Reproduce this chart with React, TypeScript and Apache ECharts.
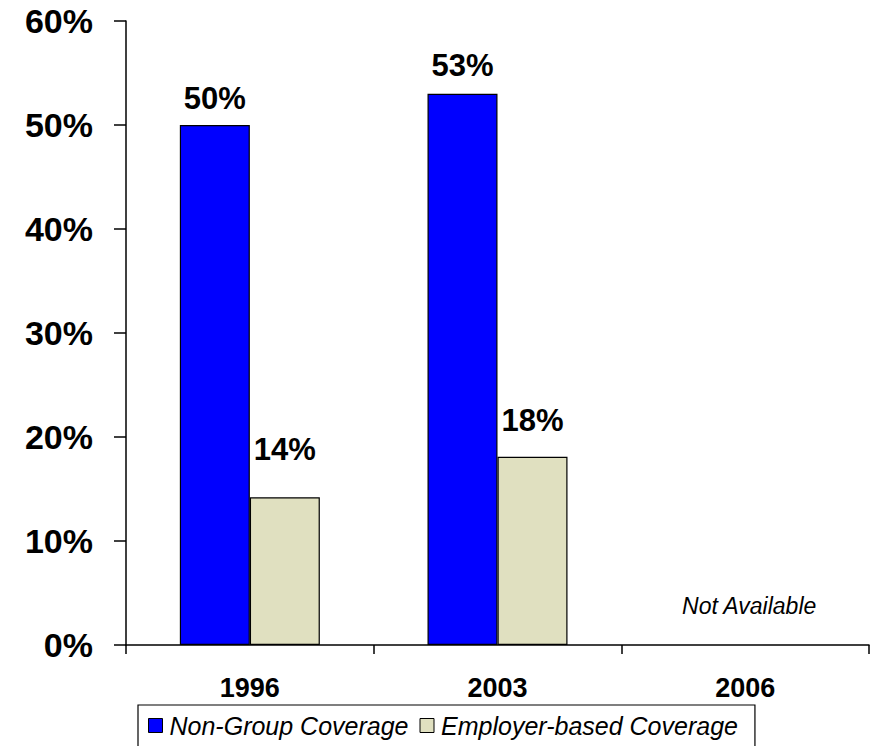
import React, { useEffect, useRef } from "react";
import * as echarts from "echarts";

const categories = ["1996", "2003", "2006"];
const nonGroup: (number | null)[] = [50, 53, null];
const employer: (number | null)[] = [14.2, 18.1, null];
const seriesNames = ["Non-Group Coverage", "Employer-based Coverage"];
const yTicks = [0, 10, 20, 30, 40, 50, 60];
const notAvailableText = "Not Available";

const FONT = "'Liberation Sans', Arial, sans-serif";

export default function App() {
  const ref = useRef<HTMLDivElement>(null);
  useEffect(() => {
    if (!ref.current) return;
    const chart = echarts.init(ref.current, undefined, { renderer: "svg" });
    const labelDist = [
      [11, 13, 0],
      [32, 21, 0],
    ];
    const mk = (vals: (number | null)[], si: number) =>
      vals.map((v, i) =>
        v == null
          ? null
          : { value: v, label: { distance: labelDist[si][i] } }
      );
    chart.setOption({
      animation: false,
      backgroundColor: "#ffffff",
      grid: { left: 126, right: 3, top: 21, bottom: 101, containLabel: false },
      xAxis: {
        type: "category",
        data: categories,
        boundaryGap: true,
        axisLine: { lineStyle: { color: "#000", width: 1.5 } },
        axisTick: { show: true, length: 9, alignWithLabel: false, lineStyle: { color: "#000", width: 1.5 } },
        axisLabel: {
          margin: 29,
          fontFamily: FONT,
          fontWeight: "bold",
          fontSize: 27,
          color: "#000",
        },
      },
      yAxis: {
        type: "value",
        min: yTicks[0],
        max: yTicks[yTicks.length - 1],
        interval: 10,
        splitLine: { show: false },
        axisLine: { show: true, lineStyle: { color: "#000", width: 1.5 } },
        axisTick: { show: true, length: 12, lineStyle: { color: "#000", width: 1.5 } },
        axisLabel: {
          margin: 33,
          fontFamily: FONT,
          fontWeight: "bold",
          fontSize: 34,
          color: "#000",
          formatter: (v: number) => `${v}%`,
        },
      },
      legend: {
        left: 138,
        top: 705,
        borderColor: "#000",
        borderWidth: 1.2,
        padding: [8, 17, 14, 10],
        itemGap: 11,
        itemWidth: 14,
        itemHeight: 14,
        icon: "rect",
        itemStyle: { borderColor: "#000", borderWidth: 1 },
        textStyle: {
          fontFamily: FONT,
          fontStyle: "italic",
          fontSize: 25,
          color: "#000",
          padding: [0, 0, 0, 2],
        },
        data: seriesNames,
      },
      series: [
        {
          name: seriesNames[0],
          type: "bar",
          data: mk(nonGroup, 0),
          barWidth: 70,
          barGap: "0%",
          itemStyle: { color: "#0000FF", borderColor: "#000", borderWidth: 1.2 },
          label: {
            show: true,
            position: "top",
            fontFamily: FONT,
            fontWeight: "bold",
            fontSize: 31,
            color: "#000",
            formatter: (p: any) => `${Math.round(p.value)}%`,
          },
        },
        {
          name: seriesNames[1],
          type: "bar",
          data: mk(employer, 1),
          barWidth: 70,
          barGap: "0%",
          itemStyle: { color: "#E0E0C0", borderColor: "#000", borderWidth: 1.2 },
          label: {
            show: true,
            position: "top",
            fontFamily: FONT,
            fontWeight: "bold",
            fontSize: 31,
            color: "#000",
            formatter: (p: any) => `${Math.round(p.value)}%`,
          },
        },
      ],
    });
    const px = chart.convertToPixel({ xAxisIndex: 0 }, categories[2]) as number;
    const py = chart.convertToPixel({ yAxisIndex: 0 }, 0) as number;
    chart.setOption({
      graphic: [
        {
          type: "text",
          x: px + 4,
          y: py - 39,
          style: {
            text: notAvailableText,
            fontFamily: FONT,
            fontStyle: "italic",
            fontSize: 23,
            fill: "#000",
            align: "center",
            verticalAlign: "middle",
          },
        },
      ],
    });
    return () => chart.dispose();
  }, []);
  return <div ref={ref} style={{ width: 872, height: 746, position: "absolute", left: 0, top: 0 }} />;
}
